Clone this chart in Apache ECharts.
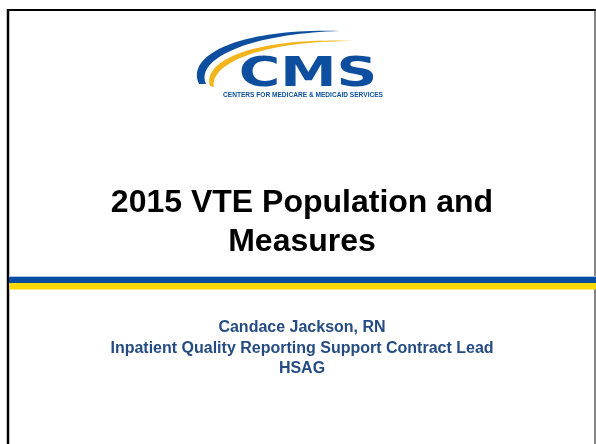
<!DOCTYPE html>
<html>
<head>
<meta charset="utf-8">
<script src="https://cdn.jsdelivr.net/npm/echarts@6/dist/echarts.min.js"></script>
<style>
  html, body { margin: 0; padding: 0; background: #fff; }
  #main { width: 596px; height: 444px; }
</style>
</head>
<body>
<div id="main"></div>
<script>
// slide texts
var logoWord = "CMS";
var logoTagline = "CENTERS FOR MEDICARE & MEDICAID SERVICES";
var titleLines = ["2015 VTE Population and", "Measures"];
var presenterLines = ["Candace Jackson, RN", "Inpatient Quality Reporting Support Contract Lead", "HSAG"];

var chart = echarts.init(document.getElementById("main"));

// points along a cubic bezier
function bez(p0, p1, p2, p3, n) {
  var pts = [];
  for (var i = 0; i <= n; i++) {
    var t = i / n, u = 1 - t;
    pts.push([
      u * u * u * p0[0] + 3 * u * u * t * p1[0] + 3 * u * t * t * p2[0] + t * t * t * p3[0],
      u * u * u * p0[1] + 3 * u * u * t * p1[1] + 3 * u * t * t * p2[1] + t * t * t * p3[1]
    ]);
  }
  return pts;
}
function crescent(outer, inner) {
  var a = bez(outer[0], outer[1], outer[2], outer[3], 40);
  var b = bez(inner[0], inner[1], inner[2], inner[3], 40).reverse();
  return a.concat(b);
}

// logo swooshes
var blueSwoosh = crescent(
  [[199, 84], [185, 55], [240, 28], [340, 31]],
  [[206, 84], [195, 60], [245, 34], [340, 31]]
);
var yellowSwoosh = crescent(
  [[210, 86], [202, 62], [250, 37], [354, 41]],
  [[214, 87], [209, 66], [255, 41], [354, 41]]
);

var cx = 302;
var elements = [
  // slide frame
  { type: "line", shape: { x1: 8, y1: 10, x2: 596, y2: 10 }, style: { stroke: "#000", lineWidth: 2 } },
  { type: "line", shape: { x1: 8, y1: 9, x2: 8, y2: 444 }, style: { stroke: "#000", lineWidth: 2.5 } },
  { type: "line", shape: { x1: 595, y1: 9, x2: 595, y2: 444 }, style: { stroke: "#333", lineWidth: 1.2 } },
  // logo
  { type: "polygon", shape: { points: blueSwoosh }, style: { fill: "#0d4f9e" } },
  { type: "polygon", shape: { points: yellowSwoosh }, style: { fill: "#f2b51c" } },
  {
    type: "text", x: 308, y: 75, scaleX: 1.38,
    style: { text: logoWord, font: "bold 41px 'DejaVu Sans'", fill: "#0d4f9e", textAlign: "center", textVerticalAlign: "middle" }
  },
  {
    type: "text", x: 303, y: 95.5, scaleX: 0.94,
    style: { text: logoTagline, font: "bold 7px 'Liberation Sans'", fill: "#0d4f9e", textAlign: "center", textVerticalAlign: "middle" }
  },
  // stripes
  { type: "rect", shape: { x: 9, y: 276, width: 587, height: 1 }, style: { fill: "#aac4e2" } },
  { type: "rect", shape: { x: 9, y: 277, width: 587, height: 6 }, style: { fill: "#0a4da0" } },
  { type: "rect", shape: { x: 9, y: 283, width: 587, height: 6.5 }, style: { fill: "#fed800" } }
];

titleLines.forEach(function (t, i) {
  elements.push({
    type: "text", x: cx, y: 187 + i * 39,
    style: { text: t, font: "bold 32px 'Liberation Sans'", fill: "#000", textAlign: "center", textVerticalAlign: "top" }
  });
});
presenterLines.forEach(function (t, i) {
  elements.push({
    type: "text", x: cx, y: 320 + i * 20.5,
    style: { text: t, font: "bold 16px 'Liberation Sans'", fill: "#254b83", textAlign: "center", textVerticalAlign: "top" }
  });
});

var option = {
  animation: false,
  backgroundColor: "#fff",
  graphic: { elements: elements }
};
option && chart.setOption(option);
</script>
</body>
</html>
